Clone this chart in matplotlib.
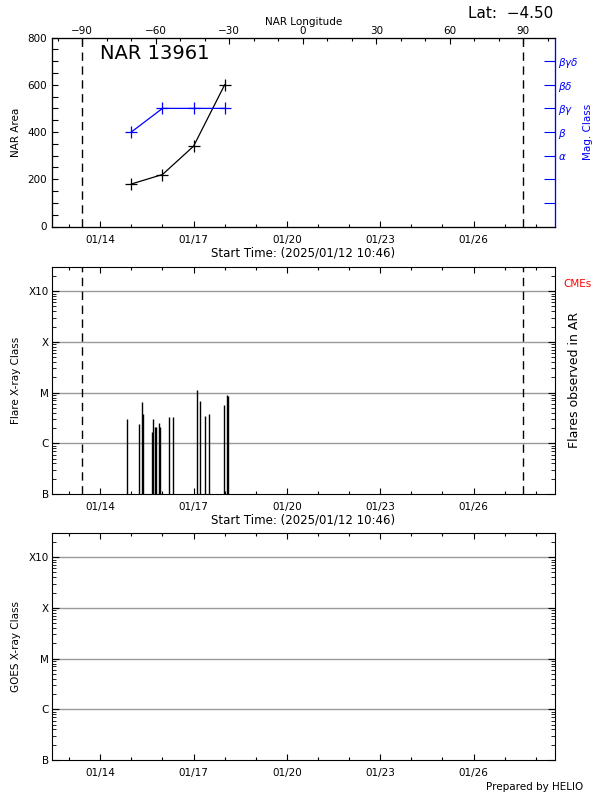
import matplotlib
matplotlib.use('Agg')
import matplotlib.pyplot as plt
import matplotlib.dates as mdates
import numpy as np
from datetime import datetime, timedelta
from matplotlib.ticker import MultipleLocator, FixedLocator, LogLocator, NullFormatter, FixedFormatter

plt.rcParams['font.family'] = ['DejaVu Sans']

# ---------------- data ----------------
start_time = '2025-01-12 10:46'
end_time = '2025-01-28 14:50'

nar_dates = ['2025-01-15 00:00', '2025-01-16 00:00', '2025-01-17 00:00', '2025-01-18 00:00']
nar_area = [180, 220, 340, 600]
mag_class = ['β', 'βγ', 'βγ', 'βγ']
mag_levels = ['', '', 'α', 'β', 'βγ', 'βδ', 'βγδ']
mag_labels_tex = ['', '', r'$\alpha$', r'$\beta$', r'$\beta\gamma$', r'$\beta\delta$', r'$\beta\gamma\delta$']

lon_ticks = [-90, -60, -30, 0, 30, 60, 90]
cm_date = '2025-01-20 12:16'   # central meridian passage
rot_rate = 12.69               # deg/day

flare_times = ['2025-01-14 20:23', '2025-01-15 05:38', '2025-01-15 08:24', '2025-01-15 09:11',
               '2025-01-15 15:40', '2025-01-15 16:26', '2025-01-15 18:26', '2025-01-15 19:13',
               '2025-01-15 21:32', '2025-01-15 22:18', '2025-01-16 05:15', '2025-01-16 08:20',
               '2025-01-17 02:51', '2025-01-17 05:10', '2025-01-17 09:01', '2025-01-17 12:07',
               '2025-01-17 23:41', '2025-01-18 02:01', '2025-01-18 02:47']
flare_peaks = [3.0e-6, 2.4e-6, 6.4e-6, 3.7e-6,
               1.7e-6, 3.0e-6, 2.1e-6, 2.1e-6,
               2.5e-6, 2.1e-6, 3.3e-6, 3.3e-6,
               1.1e-5, 6.7e-6, 3.4e-6, 3.7e-6,
               5.6e-6, 8.8e-6, 8.5e-6]

xray_levels = [1e-7, 1e-6, 1e-5, 1e-4, 1e-3]
xray_labels = ['B', 'C', 'M', 'X', 'X10']

# ---------------- helpers ----------------
def d(s):
    return datetime.strptime(s, '%Y-%m-%d %H:%M')

t0 = mdates.date2num(d(start_time))
t1 = mdates.date2num(d(end_time))
tcm = mdates.date2num(d(cm_date))

fig = plt.figure(figsize=(6, 8), dpi=100)
FS = 7.5

def style_date_axis(ax, labels=True):
    ax.set_xlim(t0, t1)
    ax.xaxis.set_major_locator(mdates.DayLocator(bymonthday=[2, 5, 8, 11, 14, 17, 20, 23, 26, 29]))
    ax.xaxis.set_minor_locator(mdates.DayLocator())
    ax.xaxis.set_major_formatter(mdates.DateFormatter('%m/%d'))
    ax.tick_params(axis='x', which='major', direction='in', length=4, width=0.8, labelsize=FS, pad=6)
    ax.tick_params(axis='x', which='minor', direction='in', length=2.5, width=0.8)
    if not labels:
        ax.tick_params(axis='x', labelbottom=False)

def lon_of(t):
    return (t - tcm) * rot_rate

# ---------------- top panel ----------------
ax1 = fig.add_axes([52/600, 1 - 226.5/800, 503/600, 189/800])
xs = [mdates.date2num(d(s)) for s in nar_dates]
ax1.plot(xs, nar_area, color='black', lw=0.9, marker='+', ms=9, mew=0.9)
mag_vals = [100 * (mag_levels.index(m) + 1) for m in mag_class]
ax1.plot(xs, mag_vals, color='blue', lw=0.9, marker='+', ms=9, mew=0.9)
ax1.set_ylim(0, 800)
ax1.yaxis.set_major_locator(MultipleLocator(200))
ax1.yaxis.set_minor_locator(MultipleLocator(50))
ax1.tick_params(axis='y', which='both', direction='in', length=4, width=0.8, labelsize=FS, right=False)
ax1.set_ylabel('NAR Area', fontsize=FS, labelpad=5)
style_date_axis(ax1)
ax1.set_xlabel('Start Time: (2025/01/12 10:46)', fontsize=8.5, labelpad=1)
for lon in (-90, 90):
    ax1.axvline(tcm + lon / rot_rate, color='black', lw=1, ls=(0, (6, 4)))
ax1.spines['right'].set_color('blue')
ax1.text(0.095, 0.915, 'NAR 13961', transform=ax1.transAxes, fontsize=14, va='center', ha='left')

# right mag-class axis
axm = ax1.twinx()
axm.set_ylim(0, 800)
axm.yaxis.set_major_locator(FixedLocator([100 * (i + 1) for i in range(len(mag_levels))]))
axm.yaxis.set_major_formatter(FixedFormatter(mag_labels_tex))
axm.tick_params(axis='y', direction='in', length=8, width=0.8, colors='blue', labelsize=FS, pad=2)
axm.spines['right'].set_color('blue')
axm.set_ylabel('Mag. Class', color='blue', fontsize=FS, labelpad=3)

# top longitude axis
axl = ax1.twiny()
axl.set_xlim(lon_of(t0), lon_of(t1))
axl.xaxis.set_major_locator(FixedLocator(lon_ticks))
axl.xaxis.set_minor_locator(MultipleLocator(10))
axl.xaxis.set_major_formatter(FixedFormatter([str(v).replace('-', '\u2212') for v in lon_ticks]))
axl.tick_params(axis='x', which='major', direction='in', length=4, width=0.8, labelsize=FS, pad=1)
axl.tick_params(axis='x', which='minor', direction='in', length=2.5, width=0.8)
axl.set_xlabel('NAR Longitude', fontsize=FS, labelpad=1)
axl.spines['right'].set_color('blue')
fig.text(553/600, 1 - 14/800, 'Lat:  \u22124.50', fontsize=11, ha='right', va='center')

# ---------------- x-ray panels ----------------
def xray_axis(ax, ylabel):
    ax.set_yscale('log')
    ax.set_ylim(1e-7, 3e-3)
    ax.yaxis.set_major_locator(FixedLocator(xray_levels))
    ax.yaxis.set_major_formatter(FixedFormatter(xray_labels))
    ax.yaxis.set_minor_locator(LogLocator(base=10, subs=np.arange(2, 10)))
    ax.yaxis.set_minor_formatter(NullFormatter())
    ax.tick_params(axis='y', which='major', direction='in', length=5, width=0.8, labelsize=FS, pad=2, right=True)
    ax.tick_params(axis='y', which='minor', direction='in', length=3, width=0.6, right=True)
    ax.tick_params(axis='x', which='both', top=True)
    for lv in xray_levels[1:]:
        ax.axhline(lv, color='#999999', lw=1, zorder=0)
    ax.set_ylabel(ylabel, fontsize=FS, labelpad=6)

ax2 = fig.add_axes([52/600, 1 - 494/800, 503/600, 227/800])
xray_axis(ax2, 'Flare X-ray Class')
style_date_axis(ax2)
ft = [mdates.date2num(d(s)) for s in flare_times]
ax2.vlines(ft, 1e-7, flare_peaks, color='black', lw=1)
for lon in (-90, 90):
    ax2.axvline(tcm + lon / rot_rate, color='black', lw=1, ls=(0, (6, 4)))
ax2.set_xlabel('Start Time: (2025/01/12 10:46)', fontsize=8.5, labelpad=1)
fig.text(563/600, 1 - 284/800, 'CMEs', color='red', fontsize=7.5, ha='left', va='center')
fig.text(574/600, 1 - 380/800, 'Flares observed in AR', rotation=90, fontsize=9, ha='center', va='center')

ax3 = fig.add_axes([52/600, 1 - 760/800, 503/600, 227/800])
xray_axis(ax3, 'GOES X-ray Class')
style_date_axis(ax3)
fig.text(583/600, 1 - 787/800, 'Prepared by HELIO', fontsize=7.5, ha='right', va='center')

fig.savefig('out.png', dpi=100)
